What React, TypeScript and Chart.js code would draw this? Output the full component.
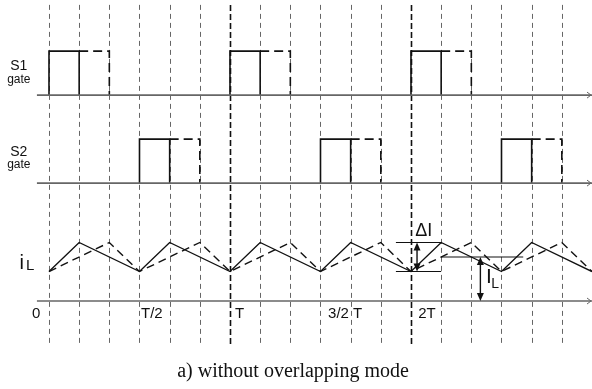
import React, { useEffect, useRef } from "react";
import { Chart, registerables } from "chart.js";
Chart.register(...registerables);

// time grid (units of T/6)
const gridTimes = [0, 1, 2, 3, 4, 5, 6, 7, 8, 9, 10, 11, 12, 13, 14, 15, 16, 17];
const periodTimes = [6, 12];
// gate pulses: rising edges, solid width, dashed extension end
const s1Rises = [0, 6, 12];
const s2Rises = [3, 9, 15];
const solidOn = 1;
const dashedOn = 2;
const gateHigh = 1;
// baselines of the three traces
const s1Base = 6.68;
const s2Base = 4.68;
const iLBase = 2.0;
// inductor current
const iLMean = 1.0;
const iLSolidT = [0, 1, 3, 4, 6, 7, 9, 10, 12, 13, 15, 16, 18];
const iLSolidV = [0.67, 1.33, 0.67, 1.33, 0.67, 1.33, 0.67, 1.33, 0.67, 1.33, 0.67, 1.33, 0.67];
const iLDashT = [0, 2, 3, 5, 6, 8, 9, 11, 12, 14, 15, 17, 18];
const iLDashV = [0.67, 1.33, 0.67, 1.33, 0.67, 1.33, 0.67, 1.33, 0.67, 1.33, 0.67, 1.33, 0.67];
// tick labels
const tickLabels = ["0", "T/2", "T", "3/2 T", "2T"];
const tickAt = [-0.56, 3.05, 6.17, 9.25, 12.24];
const caption = "a) without overlapping mode";

const X_MIN = -1.624;
const X_MAX = 18;
const Y_MIN = 0;
const Y_MAX = 389 / 44;
const AXIS_START = -0.4;

const SANS = "'Liberation Sans', Arial, sans-serif";
const SERIF = "'Liberation Serif', 'Times New Roman', serif";

function gateDatasets(rises: number[], base: number) {
  const out: any[] = [];
  rises.forEach((r) => {
    out.push({
      data: [
        { x: r, y: base },
        { x: r, y: base + gateHigh },
        { x: r + solidOn, y: base + gateHigh },
        { x: r + solidOn, y: base },
      ],
      borderColor: "#111",
      borderWidth: 1.6,
      borderDash: [],
    });
    out.push({
      data: [
        { x: r + solidOn, y: base + gateHigh },
        { x: r + dashedOn, y: base + gateHigh },
        { x: r + dashedOn, y: base },
      ],
      borderColor: "#111",
      borderWidth: 1.6,
      borderDash: [9, 5],
    });
  });
  return out;
}

const overlay = {
  id: "overlay",
  beforeDatasetsDraw(chart: any) {
    const { ctx, scales } = chart;
    const px = (v: number) => scales.x.getPixelForValue(v);
    const py = (v: number) => scales.y.getPixelForValue(v);
    ctx.save();
    gridTimes.forEach((t) => {
      const heavy = periodTimes.includes(t);
      ctx.beginPath();
      ctx.strokeStyle = heavy ? "#111" : "#666";
      ctx.lineWidth = heavy ? 1.6 : 1;
      ctx.setLineDash(heavy ? [6, 3] : [5, 4]);
      const x = Math.round(px(t)) + 0.5;
      ctx.moveTo(x, py(8.73));
      ctx.lineTo(x, py(1.0));
      ctx.stroke();
    });
    ctx.restore();
  },
  afterDatasetsDraw(chart: any) {
    const { ctx, scales } = chart;
    const px = (v: number) => scales.x.getPixelForValue(v);
    const py = (v: number) => scales.y.getPixelForValue(v);
    ctx.save();
    ctx.setLineDash([]);
    // axis arrow chevrons
    [s1Base, s2Base, iLBase].forEach((b) => {
      const xe = px(X_MAX) - 1;
      const y = py(b);
      ctx.beginPath();
      ctx.strokeStyle = "#666";
      ctx.lineWidth = 1;
      ctx.moveTo(xe - 4, y - 3);
      ctx.lineTo(xe, y);
      ctx.lineTo(xe - 4, y + 3);
      ctx.stroke();
    });
    // double arrows
    const dbl = (xv: number, y1v: number, y2v: number) => {
      const x = px(xv);
      const yt = py(y1v);
      const yb = py(y2v);
      ctx.beginPath();
      ctx.strokeStyle = "#111";
      ctx.lineWidth = 1.4;
      ctx.moveTo(x, yt + 6);
      ctx.lineTo(x, yb - 6);
      ctx.stroke();
      ctx.fillStyle = "#111";
      ctx.beginPath();
      ctx.moveTo(x, yt);
      ctx.lineTo(x - 3.5, yt + 8);
      ctx.lineTo(x + 3.5, yt + 8);
      ctx.closePath();
      ctx.fill();
      ctx.beginPath();
      ctx.moveTo(x, yb);
      ctx.lineTo(x - 3.5, yb - 8);
      ctx.lineTo(x + 3.5, yb - 8);
      ctx.closePath();
      ctx.fill();
    };
    const hi = Math.max(...iLSolidV);
    const lo = Math.min(...iLSolidV);
    dbl(12.2, iLBase + hi, iLBase + lo);
    dbl(14.3, iLBase + iLMean, iLBase);

    // texts
    ctx.fillStyle = "#111";
    ctx.textBaseline = "alphabetic";
    ctx.textAlign = "left";
    const txt = (s: string, xv: number, yv: number, font: string) => {
      ctx.font = font;
      ctx.fillText(s, px(xv), py(yv));
    };
    ctx.textAlign = "center";
    txt("S1", -1.0, 7.25, `14px ${SANS}`);
    txt("gate", -1.0, 6.95, `12px ${SANS}`);
    txt("S2", -1.0, 5.3, `14px ${SANS}`);
    txt("gate", -1.0, 5.02, `12px ${SANS}`);
    ctx.textAlign = "left";
    txt("i", -0.98, 2.73, `20px ${SANS}`);
    txt("L", -0.76, 2.7, `15px ${SANS}`);
    tickLabels.forEach((l, i) => txt(l, tickAt[i], 1.61, `15px ${SANS}`));
    txt("ΔI", 12.14, 3.48, `18px ${SANS}`);
    txt("I", 14.49, 2.41, `21px ${SANS}`);
    txt("L", 14.66, 2.3, `14px ${SANS}`);
    ctx.textAlign = "center";
    txt(caption, 8.09, 0.27, `20px ${SERIF}`);
    ctx.restore();
  },
};

export default function App() {
  const ref = useRef<HTMLCanvasElement | null>(null);
  useEffect(() => {
    if (!ref.current) return;
    const hi = Math.max(...iLSolidV);
    const lo = Math.min(...iLSolidV);
    const datasets: any[] = [];
    // axes
    [s1Base, s2Base, iLBase].forEach((b) => {
      datasets.push({
        data: [
          { x: AXIS_START, y: b },
          { x: X_MAX, y: b },
        ],
        borderColor: "#666",
        borderWidth: 1.6,
        borderDash: [],
      });
    });
    datasets.push(...gateDatasets(s1Rises, s1Base));
    datasets.push(...gateDatasets(s2Rises, s2Base));
    datasets.push({
      data: iLSolidT.map((t, i) => ({ x: t, y: iLBase + iLSolidV[i] })),
      borderColor: "#111",
      borderWidth: 1.4,
      borderDash: [],
    });
    datasets.push({
      data: iLDashT.map((t, i) => ({ x: t, y: iLBase + iLDashV[i] })),
      borderColor: "#111",
      borderWidth: 1.4,
      borderDash: [8, 5],
    });
    // delta I reference lines
    datasets.push({
      data: [
        { x: 11.5, y: iLBase + hi },
        { x: 13, y: iLBase + hi },
      ],
      borderColor: "#111",
      borderWidth: 1.2,
      borderDash: [],
    });
    datasets.push({
      data: [
        { x: 11.5, y: iLBase + lo },
        { x: 13, y: iLBase + lo },
      ],
      borderColor: "#111",
      borderWidth: 1.2,
      borderDash: [],
    });
    datasets.push({
      data: [
        { x: 13, y: iLBase + iLMean },
        { x: 15.72, y: iLBase + iLMean },
      ],
      borderColor: "#111",
      borderWidth: 1.2,
      borderDash: [],
    });
    datasets.forEach((d) => {
      d.showLine = true;
      d.pointRadius = 0;
      d.pointHoverRadius = 0;
      d.fill = false;
      d.tension = 0;
      d.borderJoinStyle = "miter";
      d.clip = false;
    });
    const chart = new Chart(ref.current, {
      type: "scatter",
      data: { datasets },
      options: {
        animation: false,
        responsive: false,
        maintainAspectRatio: false,
        layout: { padding: 0 },
        plugins: { legend: { display: false }, tooltip: { enabled: false }, title: { display: false } },
        scales: {
          x: { type: "linear", min: X_MIN, max: X_MAX, display: false },
          y: { type: "linear", min: Y_MIN, max: Y_MAX, display: false },
        },
      },
      plugins: [overlay],
    });
    return () => chart.destroy();
  }, []);
  return (
    <div style={{ position: "fixed", left: 0, top: 0, width: 592, height: 389, background: "#fff" }}>
      <canvas ref={ref} width={592} height={389} style={{ width: 592, height: 389 }} />
    </div>
  );
}
